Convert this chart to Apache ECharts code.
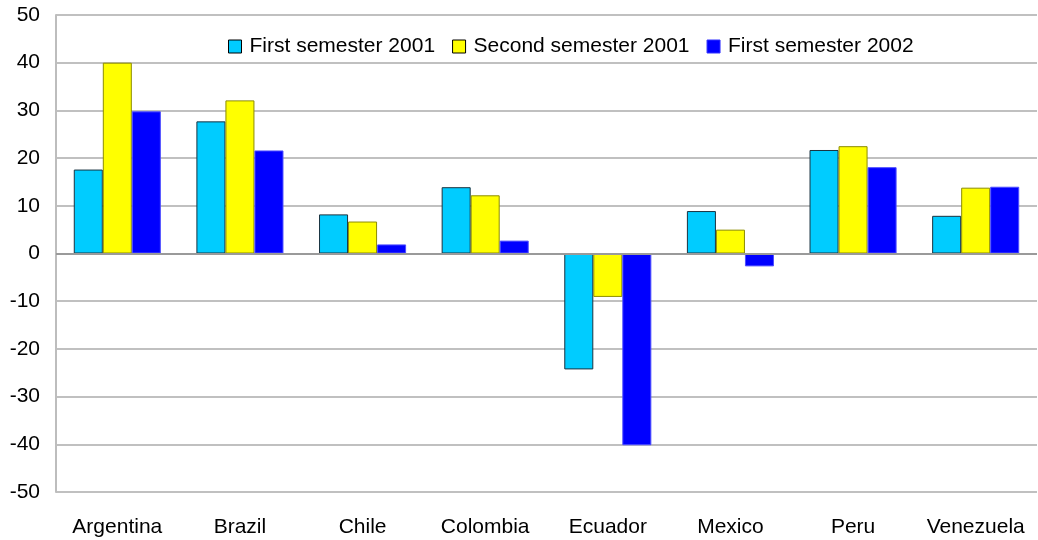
<!DOCTYPE html>
<html>
<head>
<meta charset="utf-8">
<script src="https://cdn.jsdelivr.net/npm/echarts@6/dist/echarts.min.js"></script>
<style>html,body{margin:0;padding:0;background:#fff}#c{width:1038px;height:540px}</style>
</head>
<body>
<div id="c"></div>
<script>
const categories = ['Argentina', 'Brazil', 'Chile', 'Colombia', 'Ecuador', 'Mexico', 'Peru', 'Venezuela'];
const seriesNames = ['First semester 2001', 'Second semester 2001', 'First semester 2002'];
const firstSem2001 = [17.6, 27.7, 8.2, 13.9, -24.3, 8.9, 21.7, 7.9];
const secondSem2001 = [40.0, 32.1, 6.7, 12.2, -9.1, 5.0, 22.5, 13.8];
const firstSem2002 = [29.8, 21.6, 1.9, 2.7, -40.2, -2.7, 18.1, 14.0];
const yTicks = { min: -50, max: 50, interval: 10 };

const font = '"Liberation Sans", Arial, Helvetica, sans-serif';
const colors = ['#00ccff', '#ffff00', '#0000ff'];
const borders = ['#1a3340', '#8c8c00', '#4d4dff'];
const datasets = [firstSem2001, secondSem2001, firstSem2002];

const chart = echarts.init(document.getElementById('c'), null, { renderer: 'canvas' });
chart.setOption({
  animation: false,
  backgroundColor: '#ffffff',
  textStyle: { fontFamily: font },
  legend: {
    left: 223, top: 31,
    icon: 'rect',
    itemWidth: 13, itemHeight: 13, itemGap: 17,
    textStyle: { fontFamily: font, fontSize: 21, color: '#000', padding: [0, 0, 0, 3] },
    data: seriesNames.map((n, i) => ({ name: n, itemStyle: { borderColor: i === 2 ? '#3333ff' : '#000', borderWidth: 1 } }))
  },
  grid: { left: 56, right: 1, top: 15, bottom: 48, containLabel: false },
  xAxis: {
    type: 'category',
    data: categories,
    axisLine: { show: false, onZero: false },
    axisTick: { show: false },
    axisLabel: { fontFamily: font, fontSize: 21, color: '#000', margin: 25, interval: 0 }
  },
  yAxis: {
    type: 'value',
    min: yTicks.min, max: yTicks.max, interval: yTicks.interval,
    axisLine: { show: true, lineStyle: { color: '#bdbdbd', width: 2 } },
    axisTick: { show: false },
    axisLabel: { fontFamily: font, fontSize: 21, color: '#000', margin: 16 },
    splitLine: { show: true, lineStyle: { color: '#c0c0c0', width: 2 } }
  },
  series: datasets.map((d, i) => ({
    name: seriesNames[i],
    type: 'bar',
    data: d,
    barGap: '0%',
    barCategoryGap: '29%',
    itemStyle: { color: colors[i], borderColor: borders[i], borderWidth: 1 },
    markLine: i === 0 ? {
      silent: true, symbol: 'none', label: { show: false },
      lineStyle: { color: '#9a9a9a', width: 2, type: 'solid' },
      data: [{ yAxis: 0 }]
    } : undefined
  }))
});
</script>
</body>
</html>
